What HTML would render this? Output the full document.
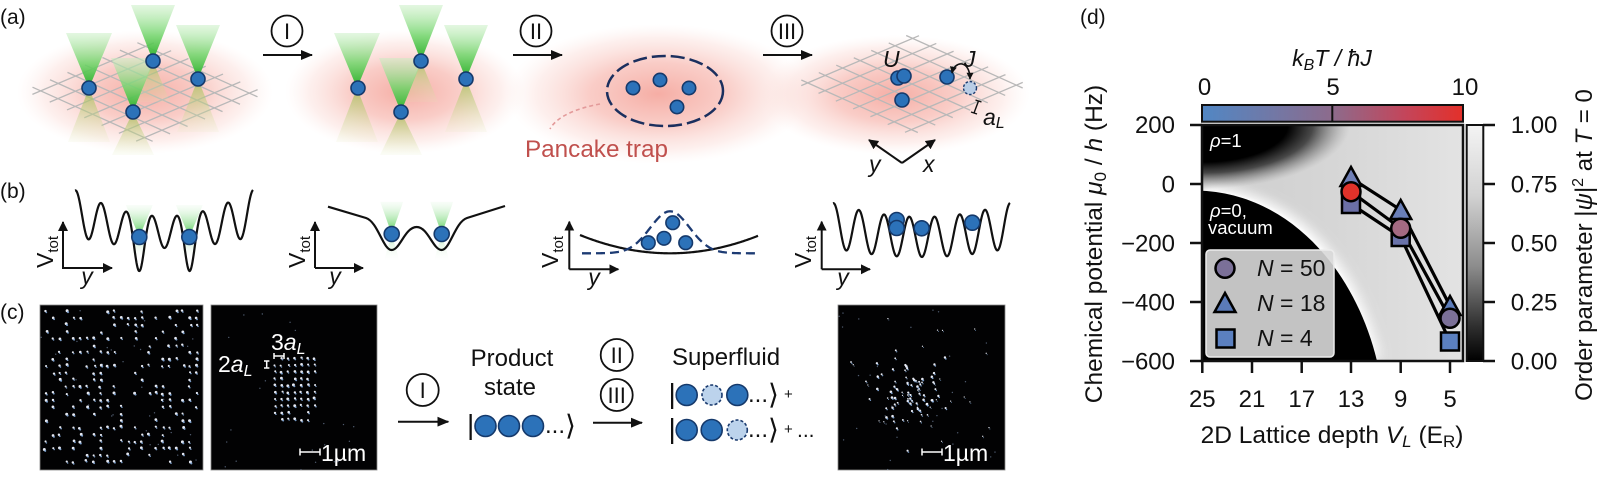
<!DOCTYPE html>
<html><head><meta charset="utf-8">
<style>
html,body{margin:0;padding:0;background:#fff;overflow:hidden;width:1600px;height:479px;}
svg{display:block;}
text{font-family:"Liberation Sans",Arial,"DejaVu Sans",sans-serif;fill:#111;}
.it{font-style:italic;}
.w{fill:#fff;}
</style></head><body>
<svg id="s" xmlns="http://www.w3.org/2000/svg" width="1600" height="479" viewBox="0 0 1600 479">
<defs>
 <radialGradient id="pg" cx="0.5" cy="0.5" r="0.5">
  <stop offset="0" stop-color="#f3998e" stop-opacity="0.8"/>
  <stop offset="0.45" stop-color="#f6aea5" stop-opacity="0.62"/>
  <stop offset="0.8" stop-color="#f9cbc4" stop-opacity="0.3"/>
  <stop offset="1" stop-color="#fde2dd" stop-opacity="0"/>
 </radialGradient>
 <linearGradient id="gUp" x1="0" y1="0" x2="0" y2="1">
  <stop offset="0" stop-color="#c8efc2" stop-opacity="0.5"/>
  <stop offset="0.55" stop-color="#6fd468" stop-opacity="0.85"/>
  <stop offset="1" stop-color="#27ae27" stop-opacity="1"/>
 </linearGradient>
 <linearGradient id="gDn" x1="0" y1="0" x2="0" y2="1">
  <stop offset="0" stop-color="#9dbb4c" stop-opacity="0.75"/>
  <stop offset="1" stop-color="#e0e8b4" stop-opacity="0.12"/>
 </linearGradient>
 <linearGradient id="gUpB" x1="0" y1="0" x2="0" y2="1">
  <stop offset="0" stop-color="#e0f7e0" stop-opacity="0.2"/>
  <stop offset="1" stop-color="#3ec63e" stop-opacity="0.95"/>
 </linearGradient>
 <linearGradient id="gDnB" x1="0" y1="0" x2="0" y2="1">
  <stop offset="0" stop-color="#8fd88f" stop-opacity="0.6"/>
  <stop offset="1" stop-color="#ffffff" stop-opacity="0"/>
 </linearGradient>
 <linearGradient id="cbT" x1="0" y1="0" x2="1" y2="0">
  <stop offset="0" stop-color="#5187c4"/>
  <stop offset="0.5" stop-color="#8d6b8c"/>
  <stop offset="0.78" stop-color="#c4455a"/>
  <stop offset="1" stop-color="#e3302a"/>
 </linearGradient>
 <linearGradient id="cbG" x1="0" y1="0" x2="0" y2="1">
  <stop offset="0" stop-color="#f4f4f4"/>
  <stop offset="0.3" stop-color="#d2d2d2"/>
  <stop offset="0.6" stop-color="#8c8c8c"/>
  <stop offset="0.85" stop-color="#303030"/>
  <stop offset="1" stop-color="#000"/>
 </linearGradient>
 <linearGradient id="hmB" x1="0" y1="0" x2="1" y2="0">
  <stop offset="0" stop-color="#cdcdcd"/>
  <stop offset="0.5" stop-color="#d6d6d6"/>
  <stop offset="1" stop-color="#e3e3e3"/>
 </linearGradient>
 <radialGradient id="hmD" cx="0" cy="0" r="1" gradientUnits="userSpaceOnUse" gradientTransform="translate(1202,125) scale(148,64)">
  <stop offset="0" stop-color="#000" stop-opacity="1"/>
  <stop offset="0.58" stop-color="#000" stop-opacity="1"/>
  <stop offset="0.75" stop-color="#1a1a1a" stop-opacity="0.75"/>
  <stop offset="0.9" stop-color="#555" stop-opacity="0.3"/>
  <stop offset="1" stop-color="#888" stop-opacity="0"/>
 </radialGradient>
 <filter id="bl" x="-50%" y="-50%" width="200%" height="200%"><feGaussianBlur stdDeviation="6"/></filter>
 <filter id="bl2" x="-50%" y="-50%" width="200%" height="200%"><feGaussianBlur stdDeviation="1.5"/></filter>
 <clipPath id="hmc"><rect x="1202" y="125" width="261" height="236"/></clipPath>
 <clipPath id="c1"><rect x="40" y="305" width="163" height="165"/></clipPath>
 <clipPath id="c2"><rect x="211" y="305" width="166" height="165"/></clipPath>
 <clipPath id="c3"><rect x="838" y="305" width="167" height="165"/></clipPath>
 <marker id="mA" viewBox="0 0 12 10" markerWidth="12" markerHeight="10" refX="11" refY="5" orient="auto" markerUnits="userSpaceOnUse"><path d="M0,0 L12,5 L0,10 z" fill="#111"/></marker>
 <marker id="mB" viewBox="0 0 10 10" markerWidth="10" markerHeight="10" refX="9" refY="5" orient="auto" markerUnits="userSpaceOnUse"><path d="M0,0 L10,5 L0,10 z" fill="#111"/></marker>
 <marker id="mC" viewBox="0 0 10 10" markerWidth="7" markerHeight="7" refX="9" refY="5" orient="auto-start-reverse" markerUnits="userSpaceOnUse"><path d="M0,0 L10,5 L0,10 z" fill="#111"/></marker>
</defs>

<!-- ============ (a) ============ -->
<text x="0" y="24" font-size="21">(a)</text>
<ellipse cx="145" cy="92" rx="128" ry="62" fill="url(#pg)"/>
<ellipse cx="405" cy="92" rx="120" ry="62" fill="url(#pg)"/>
<ellipse cx="658" cy="94" rx="152" ry="70" fill="url(#pg)"/>
<ellipse cx="895" cy="95" rx="135" ry="60" fill="url(#pg)"/>
<g id="grid1" stroke="#b8b8b8" stroke-width="1.3" fill="none"></g>
<g id="grid4" stroke="#b8b8b8" stroke-width="1.3" fill="none"></g>
<g id="conesA"></g>
<g fill="#2c72b9" stroke="#15396b" stroke-width="1.6">
 <circle cx="89" cy="88" r="7"/><circle cx="153" cy="61" r="7"/><circle cx="198" cy="79" r="7"/><circle cx="133" cy="112" r="7"/>
 <circle cx="358" cy="88" r="7"/><circle cx="421" cy="61" r="7"/><circle cx="466" cy="79" r="7"/><circle cx="401" cy="112" r="7"/>
 <circle cx="633" cy="88" r="6.7"/><circle cx="660" cy="80" r="6.7"/><circle cx="689" cy="88" r="6.7"/><circle cx="677" cy="107" r="6.7"/>
 <circle cx="898" cy="78" r="7"/><circle cx="904" cy="76" r="7"/><circle cx="902" cy="100" r="7"/><circle cx="947" cy="77" r="7"/>
</g>
<circle cx="970" cy="88" r="6.5" fill="#b9cde6" stroke="#1a3a6e" stroke-width="1.4" stroke-dasharray="2.5 1.8"/>
<!-- process arrows -->
<g stroke="#111" stroke-width="1.8" fill="none">
 <circle cx="287" cy="31" r="15.5"/><circle cx="536" cy="31" r="15.5"/><circle cx="787" cy="31" r="15.5"/>
</g>
<g stroke="#111" stroke-width="2">
 <line x1="263" y1="55" x2="312" y2="55" marker-end="url(#mA)"/>
 <line x1="513" y1="55" x2="562" y2="55" marker-end="url(#mA)"/>
 <line x1="763" y1="55" x2="812" y2="55" marker-end="url(#mA)"/>
</g>
<g font-size="22" text-anchor="middle">
 <text x="287" y="39">I</text><text x="536" y="39">II</text><text x="787" y="39">III</text>
</g>
<!-- pancake -->
<ellipse cx="665" cy="91" rx="58" ry="35" fill="none" stroke="#1b2f5e" stroke-width="2.5" stroke-dasharray="14 5"/>
<path d="M600,104 C578,108 557,116 550,129" fill="none" stroke="#e39a9a" stroke-width="1.6" stroke-dasharray="4 3"/>
<text x="525" y="157" font-size="24" fill="#c0504d" style="fill:#c0504d" textLength="143" lengthAdjust="spacingAndGlyphs">Pancake trap</text>
<!-- U J aL -->
<text x="883" y="67" font-size="23" class="it">U</text>
<text x="964" y="67" font-size="23" class="it">J</text>
<path d="M952,73 C955,60 970,60 970,79" fill="none" stroke="#111" stroke-width="1.6" marker-start="url(#mC)" marker-end="url(#mC)"/>
<g stroke="#111" stroke-width="1.4">
 <line x1="978.5" y1="101" x2="974" y2="113"/>
 <line x1="975.5" y1="100" x2="981.5" y2="102"/>
 <line x1="971" y1="112" x2="977" y2="114"/>
</g>
<text x="983" y="125" font-size="23" class="it">a<tspan font-size="16" dy="3">L</tspan></text>
<g stroke="#111" stroke-width="2" fill="none">
 <line x1="902" y1="163" x2="869" y2="140" marker-end="url(#mB)"/>
 <line x1="902" y1="163" x2="935" y2="140" marker-end="url(#mB)"/>
</g>
<text x="869" y="172" font-size="23" class="it">y</text>
<text x="923" y="172" font-size="23" class="it">x</text>

<!-- ============ (b) ============ -->
<text x="0" y="198" font-size="21">(b)</text>
<g id="conesB"></g>
<g id="curves" fill="none" stroke="#111" stroke-width="2.2">
 <path d="M328,206.7 L366,218 C378,222 383,250 391.7,250 C400,250 405,227 416.7,227 C428,227 433,250 441.7,250 C450,250 455,222 467,218 L505,206"/>
</g>
<g id="dash" fill="none" stroke="#1d3b73" stroke-width="2.3" stroke-dasharray="9 5"></g>
<g fill="#2c72b9" stroke="#15396b" stroke-width="1.6">
 <circle cx="139.3" cy="237" r="7.5"/><circle cx="189.3" cy="237" r="7.5"/>
 <circle cx="391.7" cy="234" r="7.5"/><circle cx="441.7" cy="234" r="7.5"/>
 <circle cx="672.7" cy="222.7" r="6.8"/><circle cx="648.3" cy="242.7" r="6.8"/><circle cx="664" cy="238.3" r="6.8"/><circle cx="685.7" cy="242.7" r="6.8"/>
 <circle cx="896.7" cy="220" r="7.5"/><circle cx="896.7" cy="228" r="7.5"/><circle cx="921.7" cy="228.3" r="7.5"/><circle cx="972.3" cy="222.7" r="7.5"/>
</g>
<g stroke="#111" stroke-width="2" fill="none">
 <polyline points="63,224 63,268 110,268"/>
 <line x1="63" y1="268" x2="63" y2="222" marker-end="url(#mB)"/><line x1="63" y1="268" x2="112" y2="268" marker-end="url(#mB)"/>
 <line x1="315" y1="268" x2="315" y2="222" marker-end="url(#mB)"/><line x1="315" y1="268" x2="363" y2="268" marker-end="url(#mB)"/>
 <line x1="569.3" y1="269.3" x2="569.3" y2="221.7" marker-end="url(#mB)"/><line x1="569.3" y1="269.3" x2="618.3" y2="269.3" marker-end="url(#mB)"/>
 <line x1="821.7" y1="269.3" x2="821.7" y2="221.7" marker-end="url(#mB)"/><line x1="821.7" y1="269.3" x2="870" y2="269.3" marker-end="url(#mB)"/>
</g>
<g font-size="23" text-anchor="middle">
 <text transform="translate(53,252) rotate(-90)">V<tspan font-size="15" dy="5">tot</tspan></text>
 <text transform="translate(305,252) rotate(-90)">V<tspan font-size="15" dy="5">tot</tspan></text>
 <text transform="translate(558,252) rotate(-90)">V<tspan font-size="15" dy="5">tot</tspan></text>
 <text transform="translate(811,252) rotate(-90)">V<tspan font-size="15" dy="5">tot</tspan></text>
 <text x="87" y="284" class="it">y</text><text x="335" y="284" class="it">y</text>
 <text x="594" y="285" class="it">y</text><text x="843" y="285" class="it">y</text>
</g>

<!-- ============ (c) ============ -->
<text x="0" y="319" font-size="21">(c)</text>
<rect x="40" y="305" width="163" height="165" fill="#020203" stroke="#8a8a8a" stroke-width="0.8"/>
<rect x="211" y="305" width="166" height="165" fill="#020203" stroke="#8a8a8a" stroke-width="0.8"/>
<rect x="838" y="305" width="167" height="165" fill="#020203" stroke="#8a8a8a" stroke-width="0.8"/>
<g id="img1" clip-path="url(#c1)"></g>
<g id="img2" clip-path="url(#c2)"></g>
<g id="img3" clip-path="url(#c3)"></g>
<g stroke="#fff" stroke-width="1.5">
 <line x1="300" y1="452" x2="320" y2="452"/><line x1="300" y1="448.5" x2="300" y2="455.5"/><line x1="320" y1="448.5" x2="320" y2="455.5"/>
 <line x1="922" y1="452" x2="942" y2="452"/><line x1="922" y1="448.5" x2="922" y2="455.5"/><line x1="942" y1="448.5" x2="942" y2="455.5"/>
 <line x1="274" y1="356" x2="284" y2="356"/><line x1="274" y1="353" x2="274" y2="359"/><line x1="284" y1="353" x2="284" y2="359"/>
 <line x1="266.7" y1="361" x2="266.7" y2="368"/><line x1="264" y1="361" x2="269.4" y2="361"/><line x1="264" y1="368" x2="269.4" y2="368"/>
</g>
<text x="321" y="461" font-size="23" class="w" style="fill:#fff">1µm</text>
<text x="943" y="461" font-size="23" class="w" style="fill:#fff">1µm</text>
<text x="271" y="350" font-size="23" style="fill:#fff">3<tspan class="it">a</tspan><tspan class="it" font-size="16" dy="4">L</tspan></text>
<text x="218" y="372" font-size="23" style="fill:#fff">2<tspan class="it">a</tspan><tspan class="it" font-size="16" dy="4">L</tspan></text>
<!-- arrows c -->
<g stroke="#111" stroke-width="1.8" fill="none">
 <circle cx="422.7" cy="390" r="16"/><circle cx="616.7" cy="355" r="16"/><circle cx="616.7" cy="395" r="16"/>
</g>
<g stroke="#111" stroke-width="2">
 <line x1="398" y1="421.7" x2="448.3" y2="421.7" marker-end="url(#mA)"/>
 <line x1="593" y1="422.7" x2="642" y2="422.7" marker-end="url(#mA)"/>
</g>
<g font-size="22" text-anchor="middle">
 <text x="422.7" y="398">I</text><text x="616.7" y="363">II</text><text x="616.7" y="403">III</text>
</g>
<text x="512" y="366" font-size="24" text-anchor="middle">Product</text>
<text x="510" y="395" font-size="24" text-anchor="middle">state</text>
<text x="672" y="365" font-size="24">Superfluid</text>
<g font-size="28">
 <text x="467" y="434">|</text>
 <text x="668.5" y="403">|</text>
 <text x="668.5" y="438">|</text>
</g>
<g font-size="28" font-family="DejaVu Sans, sans-serif" style="font-family:'DejaVu Sans',sans-serif">
 <text x="565" y="435">⟩</text>
 <text x="768" y="404">⟩</text>
 <text x="768" y="439">⟩</text>
</g>
<g font-size="24">
 <text x="545" y="433">...</text>
 <text x="748" y="402">...</text>
 <text x="748" y="437">...</text>
 <text x="797" y="437" font-size="21">...</text>
</g>
<g font-size="15"><text x="784" y="399">+</text><text x="784" y="434">+</text></g>
<g fill="#2c72b9" stroke="#15396b" stroke-width="1.6">
 <circle cx="485.5" cy="426" r="10.5"/><circle cx="509" cy="426" r="10.5"/><circle cx="533" cy="426" r="10.5"/>
 <circle cx="686.7" cy="395" r="10.5"/><circle cx="737.3" cy="395" r="10.5"/>
 <circle cx="686.7" cy="430" r="10.5"/><circle cx="711.7" cy="430" r="10.5"/>
</g>
<g fill="#bcd3ec" stroke="#1a3a6e" stroke-width="1.6" stroke-dasharray="3 2">
 <circle cx="712" cy="395" r="10"/><circle cx="737.3" cy="430" r="10"/>
</g>

<!-- ============ (d) ============ -->
<text x="1080" y="24" font-size="21">(d)</text>
<text x="1332" y="66" font-size="23" text-anchor="middle" class="it">k<tspan font-size="16" dy="4">B</tspan><tspan dy="-4">T / ħJ</tspan></text>
<g font-size="24" text-anchor="middle">
 <text x="1204.6" y="95">0</text><text x="1333" y="95">5</text><text x="1465" y="95">10</text>
</g>
<rect x="1202" y="105" width="261" height="16.7" fill="url(#cbT)" stroke="#111" stroke-width="2"/>
<line x1="1332.3" y1="105" x2="1332.3" y2="121.7" stroke="#111" stroke-width="2"/>

<g clip-path="url(#hmc)">
 <rect x="1202" y="125" width="261" height="236" fill="url(#hmB)"/>
 <path d="M1202,198 C1285,202 1345,265 1368,361" fill="none" stroke="#fff" stroke-width="26" filter="url(#bl)" opacity="0.95"/>
 <path d="M1202,193 C1289,197 1352,268 1373,361" fill="none" stroke="#fff" stroke-width="5" filter="url(#bl2)"/>
 <ellipse cx="1202" cy="125" rx="148" ry="64" fill="url(#hmD)"/>
 <path d="M1202,190.7 C1290,195 1355,270 1377,361 L1202,361 Z" fill="#000"/>
</g>
<rect x="1202" y="125" width="261" height="236" fill="none" stroke="#111" stroke-width="2.5"/>
<!-- axes ticks -->
<g stroke="#111" stroke-width="2.5">
 <line x1="1190" y1="125" x2="1202" y2="125"/><line x1="1190" y1="184" x2="1202" y2="184"/><line x1="1190" y1="243" x2="1202" y2="243"/><line x1="1190" y1="302" x2="1202" y2="302"/><line x1="1190" y1="361" x2="1202" y2="361"/>
 <line x1="1202.3" y1="361" x2="1202.3" y2="373"/><line x1="1252" y1="361" x2="1252" y2="373"/><line x1="1301.7" y1="361" x2="1301.7" y2="373"/><line x1="1351" y1="361" x2="1351" y2="373"/><line x1="1400.7" y1="361" x2="1400.7" y2="373"/><line x1="1450" y1="361" x2="1450" y2="373"/>
 <line x1="1483" y1="125" x2="1495" y2="125"/><line x1="1483" y1="184" x2="1495" y2="184"/><line x1="1483" y1="243" x2="1495" y2="243"/><line x1="1483" y1="302" x2="1495" y2="302"/><line x1="1483" y1="361" x2="1495" y2="361"/>
</g>
<rect x="1466.7" y="125" width="16.6" height="236" fill="url(#cbG)" stroke="#111" stroke-width="2"/>
<g font-size="24" text-anchor="end">
 <text x="1175" y="133">200</text><text x="1175" y="192.5">0</text><text x="1175" y="251.5">−200</text><text x="1175" y="310.5">−400</text><text x="1175" y="369.5">−600</text>
</g>
<g font-size="24" text-anchor="middle">
 <text x="1202.3" y="407">25</text><text x="1252" y="407">21</text><text x="1301.7" y="407">17</text><text x="1351" y="407">13</text><text x="1400.7" y="407">9</text><text x="1450" y="407">5</text>
</g>
<g font-size="24">
 <text x="1510.7" y="133">1.00</text><text x="1510.7" y="192.5">0.75</text><text x="1510.7" y="251.5">0.50</text><text x="1510.7" y="310.5">0.25</text><text x="1510.7" y="369.5">0.00</text>
</g>
<text x="1332" y="443" font-size="24.5" text-anchor="middle">2D Lattice depth <tspan class="it">V</tspan><tspan class="it" font-size="17" dy="4">L</tspan><tspan dy="-4"> (E</tspan><tspan font-size="17" dy="4">R</tspan><tspan dy="-4">)</tspan></text>
<text transform="translate(1102,244) rotate(-90)" font-size="24.5" text-anchor="middle">Chemical potential <tspan class="it">μ</tspan><tspan font-size="17" dy="4">0</tspan><tspan dy="-4"> / </tspan><tspan class="it">h</tspan> (Hz)</text>
<text transform="translate(1592,245) rotate(-90)" font-size="24" text-anchor="middle">Order parameter |<tspan class="it">ψ</tspan>|<tspan font-size="16" dy="-9">2</tspan><tspan dy="9"> at </tspan><tspan class="it">T</tspan> = 0</text>
<g font-size="18.5" style="fill:#fff">
 <text x="1210" y="147" style="fill:#fff"><tspan class="it">ρ</tspan>=1</text>
 <text x="1210" y="217" style="fill:#fff"><tspan class="it">ρ</tspan>=0,</text>
 <text x="1208" y="234" style="fill:#fff">vacuum</text>
</g>
<!-- data lines -->
<g stroke="#000" stroke-width="3.2" fill="none">
 <polyline points="1351,178 1400.7,210 1450,306"/>
 <polyline points="1351,191.7 1400.7,228.3 1450,318.3"/>
 <polyline points="1351,204 1400.7,237 1450,341.5"/>
</g>
<g stroke="#000" stroke-width="2.5">
 <rect x="1342" y="195" width="18" height="18" fill="#6b6fa6"/>
 <rect x="1391.7" y="228" width="18" height="18" fill="#6a73aa"/>
 <rect x="1441" y="332.5" width="18" height="18" fill="#5b80c0"/>
 <polygon points="1351,167 1340.5,186 1361.5,186" fill="#6f7fb6"/>
 <polygon points="1400.7,200 1390.2,219 1411.2,219" fill="#6a7fb8"/>
 <polygon points="1450,296 1439.5,315 1460.5,315" fill="#5b7bb9"/>
 <circle cx="1351" cy="191.7" r="9.5" fill="#e0322a"/>
 <circle cx="1400.7" cy="228.3" r="9.5" fill="#a46a82"/>
 <circle cx="1450" cy="318.3" r="9.5" fill="#7b7098"/>
</g>
<!-- legend -->
<rect x="1206" y="250" width="128" height="107" rx="4" fill="#d8d8d8" fill-opacity="0.9" stroke="#ececec" stroke-width="1.5"/>
<g stroke="#000" stroke-width="2.5">
 <circle cx="1225" cy="268.3" r="9.5" fill="#7b7098"/>
 <polygon points="1225,293 1214.5,312 1235.5,312" fill="#5b7bb9"/>
 <rect x="1216.5" y="329.5" width="18" height="18" fill="#5b80c0"/>
</g>
<g font-size="23">
 <text x="1257" y="276"><tspan class="it">N</tspan> = 50</text>
 <text x="1257" y="311"><tspan class="it">N</tspan> = 18</text>
 <text x="1257" y="346"><tspan class="it">N</tspan> = 4</text>
</g>

<script>
(function(){
var NS='http://www.w3.org/2000/svg';
function E(t,a,p){var e=document.createElementNS(NS,t);for(var k in a)e.setAttribute(k,a[k]);p.appendChild(e);return e;}
function G(i){return document.getElementById(i);}
function curve(f,x0,x1,st){var d='';for(var x=x0;x<=x1+1e-6;x+=st){d+=(d?'L':'M')+x.toFixed(2)+' '+f(x).toFixed(2);}return d;}
var P2=2*Math.PI;
var cv=G('curves');
E('path',{d:curve(function(x){var t=Math.pow((x-164)/89,2);return 232-19*t+(16+7*t)*Math.cos(P2*(x-88.5)/25.33)+24*Math.exp(-Math.pow((x-139.3)/6,2))+24*Math.exp(-Math.pow((x-189.5)/6,2));},75,253,0.5)},cv);
E('path',{d:curve(function(x){var t=Math.pow((x-921.5)/88.5,2);return 237-11.5*t+(20+2.5*t)*Math.cos(P2*(x-896.7)/25.2);},833,1010,0.5)},cv);
E('path',{d:curve(function(x){return 253.3-17.6*Math.pow((x-670)/88.3,2);},580,758,1)},cv);
E('path',{d:curve(function(x){return 253.3-42*Math.exp(-Math.pow((x-670)/28,2));},582,757,1)},G('dash'));
// grids
function grid(cx,cy,n,s,ext,p){var a=[0.92,-0.39],b=[0.91,0.41];for(var j=-n;j<=n;j++){[[a,b],[b,a]].forEach(function(uv){var u=uv[0],v=uv[1];var ox=cx+j*s*v[0],oy=cy+j*s*v[1];E('line',{x1:ox-ext*u[0],y1:oy-ext*u[1],x2:ox+ext*u[0],y2:oy+ext*u[1]},p);});}}
grid(145,92,3,19,66,G('grid1'));
grid(912,84,3,19,64,G('grid4'));
// cones
function cone(p,x,y,top,hw,bot,bhw,up,dn){E('polygon',{points:(x-bhw)+','+bot+' '+(x+bhw)+','+bot+' '+x+','+y,fill:'url(#'+dn+')'},p);E('polygon',{points:(x-hw)+','+top+' '+(x+hw)+','+top+' '+x+','+y,fill:'url(#'+up+')'},p);}
var ca=G('conesA');
[[0,0],[268,0]].forEach(function(o){var d=o[0];
 cone(ca,153+d,61,5,22,102,17,'gUp','gDn');
 cone(ca,198+d,79,25,22,132,21,'gUp','gDn');
 cone(ca,89+d,88,33,23,142,21,'gUp','gDn');
 cone(ca,133+d,112,58,22,155,21,'gUp','gDn');
});
var cb=G('conesB');
cone(cb,139.3,237,205,13.5,258,10,'gUpB','gDnB');
cone(cb,189.3,237,205,13.5,258,10,'gUpB','gDnB');
cone(cb,391.7,234,201.7,11.5,262,8,'gUpB','gDnB');
cone(cb,441.7,234,201.7,11.5,262,8,'gUpB','gDnB');
// dots
var sd=20211;function R(){sd=(sd*16807)%2147483647;return sd/2147483647;}
function gs(){return Math.sqrt(-2*Math.log(R()+1e-9))*Math.cos(P2*R());}
function speck(x,y,p,b){E('circle',{cx:x.toFixed(2),cy:y.toFixed(2),r:(1.25*b).toFixed(2),fill:'#f2f6ff','fill-opacity':0.95},p);E('circle',{cx:(x+0.9).toFixed(2),cy:(y+1.4).toFixed(2),r:(0.9*b).toFixed(2),fill:'#8ab2e4','fill-opacity':0.85},p);}
function dim(x,y,p){E('circle',{cx:x.toFixed(2),cy:y.toFixed(2),r:0.7,fill:'#8fa6c8','fill-opacity':0.55},p);}
var g1=G('img1');
for(var i=0;i<23;i++)for(var j=0;j<23;j++){if(R()<0.38){speck(46+i*6.85+gs()*0.5,311+j*6.85+gs()*0.5,g1,0.8+0.4*R());}}
for(var k=0;k<30;k++)dim(40+R()*163,305+R()*165,g1);
var g2=G('img2');
for(var i=0;i<7;i++)for(var j=0;j<10;j++){if(R()<0.93){speck(275+i*6.6+gs()*0.4,358+j*6.8+gs()*0.4,g2,0.8+0.35*R());}}
for(var k=0;k<22;k++)dim(211+R()*166,305+R()*165,g2);
var g3=G('img3');
for(var k=0;k<80;k++){speck(913+gs()*17,391+gs()*16,g3,0.6+0.45*R());}
for(var k=0;k<25;k++){speck(850+R()*145,315+R()*130,g3,0.5);}
for(var k=0;k<30;k++)dim(838+R()*167,305+R()*165,g3);
})();
</script>
</svg>
</body></html>
